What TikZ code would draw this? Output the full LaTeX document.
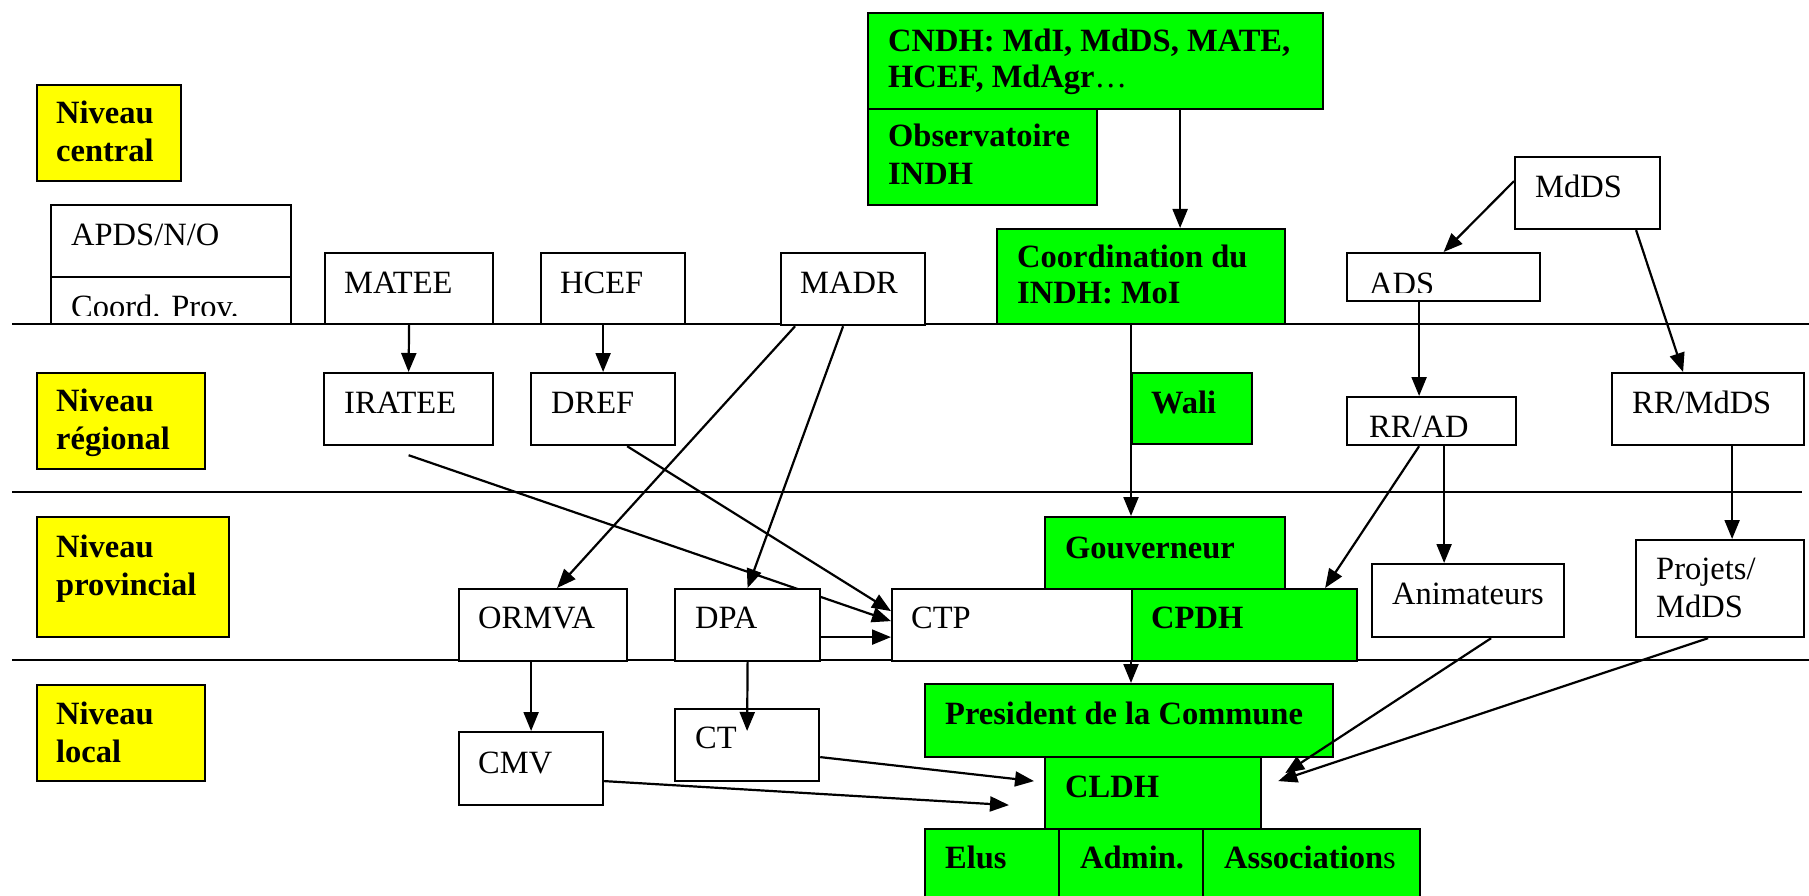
\documentclass[tikz,border=0pt]{standalone}
\usepackage{fontspec}
\setmainfont{Liberation Serif}
\usetikzlibrary{arrows.meta}
\usetikzlibrary{positioning}
\usetikzlibrary{calc}
\usetikzlibrary{backgrounds}
\definecolor{indhgreen}{RGB}{0,255,0}
\definecolor{levelyellow}{RGB}{255,255,0}

\begin{document}
\begin{tikzpicture}[x=1pt,y=-1pt,
  every node/.style={font=\fontsize{32.5}{38}\selectfont},
  box/.style={draw,line width=2.2pt,fill=white,inner sep=0pt,anchor=north west},
  gbox/.style={box,fill=indhgreen},
  ybox/.style={box,fill=levelyellow},
  txt/.style={inner sep=0pt,anchor=base west,align=left},
  btxt/.style={txt,font=\fontsize{32.5}{38}\selectfont\bfseries},
  sep/.style={line width=2.2pt},
  arr/.style={line width=2.2pt,-{Triangle[length=19pt,width=15pt]}}]
\useasboundingbox (0,0) rectangle (1809,896);
\clip (0,0) rectangle (1809,896);

% level lines
\coordinate (l1w) at (12,324); \coordinate (l1e) at (1809,324);
\coordinate (l2w) at (12,492); \coordinate (l2e) at (1802,492);
\coordinate (l3w) at (12,660); \coordinate (l3e) at (1809,660);
\draw[sep] (l1w) -- (l1e);
\draw[sep] (l2w) -- (l2e);
\draw[sep] (l3w) -- (l3e);

% niveaux (base = last line)
\node[ybox,minimum width=144,minimum height=96] (nivc) at (36,84) {};
\node[btxt] (nivc-t) at ($(nivc.north west)+(20,78)$) {Niveau\\central};
\node[ybox,minimum width=168,minimum height=96] (nivr) at (36,372) {};
\node[btxt] (nivr-t) at ($(nivr.north west)+(20,77)$) {Niveau\\régional};
\node[ybox,minimum width=192,minimum height=120] (nivp) at (36,516) {};
\node[btxt] (nivp-t) at ($(nivp.north west)+(20,79)$) {Niveau\\provincial};
\node[ybox,minimum width=168,minimum height=96] (nivl) at (36,684) {};
\node[btxt] (nivl-t) at ($(nivl.north west)+(20,78)$) {Niveau\\local};

% central
\node[box,minimum width=240,minimum height=72] (apds) at (50,204) {};
\node[txt] (apds-t) at ($(apds.north west)+(21,41)$) {APDS/N/O};
\node[box,minimum width=240,minimum height=47] (cprov) at (50,276) {};
\begin{scope}
  \clip (cprov.north west) rectangle ([yshift=10]cprov.south east);
  \node[txt] (cprov-t) at ($(cprov.north west)+(21,41)$) {Coord. Prov.};
\end{scope}
\node[box,minimum width=168,minimum height=71] (matee) at (324,252) {};
\node[txt] (matee-t) at ($(matee.north west)+(20,41)$) {MATEE};
\node[box,minimum width=144,minimum height=71] (hcef) at (540,252) {};
\node[txt] (hcef-t) at ($(hcef.north west)+(20,41)$) {HCEF};
\node[box,minimum width=144,minimum height=72] (madr) at (780,252) {};
\node[txt] (madr-t) at ($(madr.north west)+(20,41)$) {MADR};
\node[gbox,minimum width=455,minimum height=96] (cndh) at (867,12) {};
\node[btxt] (cndh-t) at ($(cndh.north west)+(21,76)$) {CNDH: MdI, MdDS, MATE,\\[-2pt]HCEF, MdAgr{\mdseries…}};
\node[gbox,minimum width=229,minimum height=96] (obs) at (867,108) {};
\node[btxt] (obs-t) at ($(obs.north west)+(21,77)$) {Observatoire\\INDH};
\node[gbox,minimum width=288,minimum height=95] (coord) at (996,228) {};
\node[btxt] (coord-t) at ($(coord.north west)+(21,75)$) {Coordination du\\[-2pt]INDH: MoI};
\node[box,minimum width=145,minimum height=72] (mdds) at (1514,156) {};
\node[txt] (mdds-t) at ($(mdds.north west)+(21,41)$) {MdDS};
\node[box,minimum width=193,minimum height=48] (ads) at (1346,252) {};
\begin{scope}
  \clip (ads.north west) rectangle ([yshift=10]ads.south east);
  \node[txt] (ads-t) at ($(ads.north west)+(23,42)$) {ADS};
\end{scope}

% regional
\node[box,minimum width=169,minimum height=72] (iratee) at (323,372) {};
\node[txt] (iratee-t) at ($(iratee.north west)+(21,41)$) {IRATEE};
\node[box,minimum width=144,minimum height=72] (dref) at (530,372) {};
\node[txt] (dref-t) at ($(dref.north west)+(21,41)$) {DREF};
\node[gbox,minimum width=120,minimum height=71] (wali) at (1131,372) {};
\node[btxt] (wali-t) at ($(wali.north west)+(20,41)$) {Wali};
\node[box,minimum width=169,minimum height=48] (rrad) at (1346,396) {};
\begin{scope}
  \clip (rrad.north west) rectangle ([yshift=10]rrad.south east);
  \node[txt] (rrad-t) at ($(rrad.north west)+(23,41)$) {RR/AD};
\end{scope}
\node[box,minimum width=192,minimum height=72] (rrmdds) at (1611,372) {};
\node[txt] (rrmdds-t) at ($(rrmdds.north west)+(21,41)$) {RR/MdDS};

% provincial
\node[gbox,minimum width=240,minimum height=72] (gouv) at (1044,516) {};
\node[btxt] (gouv-t) at ($(gouv.north west)+(21,42)$) {Gouverneur};
\node[box,minimum width=240,minimum height=72] (ctp) at (891,588) {};
\node[txt] (ctp-t) at ($(ctp.north west)+(20,40)$) {CTP};
\node[gbox,minimum width=225,minimum height=72] (cpdh) at (1131,588) {};
\node[btxt] (cpdh-t) at ($(cpdh.north west)+(20,40)$) {CPDH};
\node[box,minimum width=168,minimum height=72] (ormva) at (458,588) {};
\node[txt] (ormva-t) at ($(ormva.north west)+(20,40)$) {ORMVA};
\node[box,minimum width=145,minimum height=72] (dpa) at (674,588) {};
\node[txt] (dpa-t) at ($(dpa.north west)+(21,40)$) {DPA};
\node[box,minimum width=192,minimum height=73] (anim) at (1371,563) {};
\node[txt] (anim-t) at ($(anim.north west)+(21,41)$) {Animateurs};
\node[box,minimum width=168,minimum height=97] (proj) at (1635,539) {};
\node[txt] (proj-t) at ($(proj.north west)+(21,78)$) {Projets/\\MdDS};

% local
\node[gbox,minimum width=408,minimum height=73] (pres) at (924,683) {};
\node[btxt] (pres-t) at ($(pres.north west)+(21,41)$) {President de la Commune};
\node[gbox,minimum width=216,minimum height=72] (cldh) at (1044,756) {};
\node[btxt] (cldh-t) at ($(cldh.north west)+(21,41)$) {CLDH};
\node[gbox,minimum width=134,minimum height=80] (elus) at (924,828) {};
\node[btxt] (elus-t) at ($(elus.north west)+(21,40)$) {Elus};
\node[gbox,minimum width=144,minimum height=80] (admin) at (1058,828) {};
\node[btxt] (admin-t) at ($(admin.north west)+(22,40)$) {Admin.};
\node[gbox,minimum width=217,minimum height=80] (assoc) at (1202,828) {};
\node[btxt] (assoc-t) at ($(assoc.north west)+(22,40)$) {Association{\mdseries s}};
\node[box,minimum width=144,minimum height=73] (cmv) at (458,731) {};
\node[txt] (cmv-t) at ($(cmv.north west)+(20,42)$) {CMV};
\node[box,minimum width=144,minimum height=72] (ct) at (674,708) {};
\node[txt] (ct-t) at ($(ct.north west)+(21,40)$) {CT};

% arrows
\draw[arr] ([xshift=84.5]cndh.south) -- ([xshift=84.5]cndh.south |- coord.north);
\draw[arr] (matee.south) -- (iratee.north);
\draw[arr] (hcef.south -| dref.north) -- (dref.north);
\draw[arr] ([xshift=-58]madr.south) -- ([xshift=14]ormva.north);
\draw[arr] ([xshift=-10]madr.south) -- (dpa.north);
\draw[arr] (wali.west |- coord.south) -- (wali.west |- gouv.north);
\draw[arr] ([yshift=12]mdds.west) -- (ads.north);
\draw[arr] ([xshift=48.5]mdds.south) -- ([xshift=-25]rrmdds.north);
\draw[arr] ([xshift=-24.5]ads.south) -- ([xshift=-24.5]ads.south |- rrad.north);
\draw[arr] ([xshift=-12.5]rrad.south) -- ([xshift=80.5]cpdh.north);
\draw[arr] ([xshift=12.5]rrad.south) -- ([xshift=12.5]rrad.south |- anim.north);
\draw[arr] ([xshift=24]rrmdds.south) -- ([xshift=24]rrmdds.south |- proj.north);
\draw[arr] ([xshift=24]dref.south) -- ([yshift=14]ctp.west);
\draw[arr] ([yshift=-12]dpa.east) -- ([yshift=-12]dpa.east -| ctp.west);
\draw[arr] (cpdh.south west) -- (cpdh.south west |- pres.north);
\draw[arr] (ormva.south -| cmv.north) -- (cmv.north);
\draw[arr] (dpa.south) -- ([yshift=-23]ct.north);
\draw[arr] ([yshift=-12]ct.east) -- ([xshift=-10,yshift=12]cldh.west);
\draw[arr] ([yshift=-12.5]cmv.east) -- ([xshift=-35,yshift=-12]cldh.west);
\draw[arr] ([xshift=23]anim.south) -- ([xshift=23,yshift=20]cldh.east);
\draw[arr] ([xshift=-12]proj.south) -- ([xshift=16,yshift=12]cldh.east);
\coordinate (iratee-o) at ([yshift=-9]iratee.south);
\begin{pgfonlayer}{background}
  \draw[arr] (iratee-o) -- ([yshift=4]ctp.west);
\end{pgfonlayer}
\end{tikzpicture}
\end{document}
